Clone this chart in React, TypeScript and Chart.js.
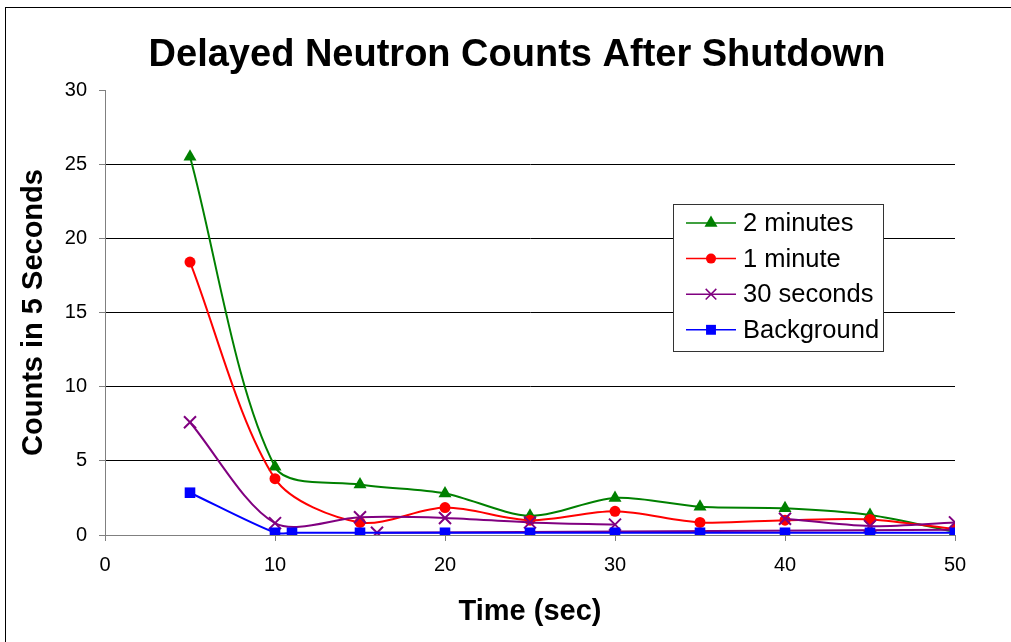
import React, { useEffect, useRef } from 'react';
import { Chart, registerables } from 'chart.js';

Chart.register(...registerables);

const FONT = "'Liberation Sans', Arial, Helvetica, sans-serif";

const chartTitle = 'Delayed Neutron Counts After Shutdown';
const xAxisTitle = 'Time (sec)';
const yAxisTitle = 'Counts in 5 Seconds';

const seriesNames = ['2 minutes', '1 minute', '30 seconds', 'Background'];
const seriesColors = ['#008000', '#FF0000', '#800080', '#0000FF'];
const seriesMarkers = ['triangle', 'circle', 'crossRot', 'rect'];

const twoMinTimes = [5, 10, 15, 20, 25, 30, 35, 40, 45, 50];
const twoMinCounts = [25.5, 4.6, 3.4, 2.8, 1.3, 2.5, 1.9, 1.8, 1.35, 0.2];

const oneMinTimes = [5, 10, 15, 20, 25, 30, 35, 40, 45, 50];
const oneMinCounts = [18.4, 3.8, 0.85, 1.85, 1.0, 1.6, 0.85, 1.0, 1.05, 0.4];

// null entries break the line into separate runs
const thirtySecTimes = [5, 10, 15, 20, 25, 30, 35, 40, 45, 50, 35, 16, 50];
const thirtySecCounts = [7.6, 0.8, 1.2, 1.15, 0.85, 0.7, null, 1.1, 0.6, 0.85, null, 0.15, 0.35];
const thirtySecMarkerShown = [1, 1, 1, 1, 1, 1, 0, 1, 1, 1, 0, 1, 0];

const backgroundTimes = [5, 10, 11, 15, 20, 25, 30, 35, 40, 45, 50];
const backgroundCounts = [2.85, 0.15, 0.15, 0.15, 0.15, 0.15, 0.15, 0.15, 0.15, 0.15, 0.15];

const xTicks = [0, 10, 20, 30, 40, 50];
const yTicks = [0, 5, 10, 15, 20, 25, 30];

const toPoints = (xs: number[], ys: (number | null)[]) => xs.map((x, i) => ({ x, y: ys[i] }));

function drawMarker(ctx: CanvasRenderingContext2D, style: string, x: number, y: number, r: number, color: string) {
  ctx.save();
  ctx.fillStyle = color;
  ctx.strokeStyle = color;
  ctx.beginPath();
  if (style === 'triangle') {
    ctx.moveTo(x, y - r);
    ctx.lineTo(x + r * 0.866, y + r * 0.5);
    ctx.lineTo(x - r * 0.866, y + r * 0.5);
    ctx.closePath();
    ctx.fill();
  } else if (style === 'circle') {
    ctx.arc(x, y, r, 0, Math.PI * 2);
    ctx.fill();
  } else if (style === 'crossRot') {
    const d = r * 0.707;
    ctx.lineWidth = 1.5;
    ctx.moveTo(x - d, y - d);
    ctx.lineTo(x + d, y + d);
    ctx.moveTo(x - d, y + d);
    ctx.lineTo(x + d, y - d);
    ctx.stroke();
  } else {
    const s = r * 0.707;
    ctx.fillRect(x - s, y - s, 2 * s, 2 * s);
  }
  ctx.restore();
}

const chartHeading = {
  id: 'chartHeading',
  afterDraw(chart: any) {
    const ctx: CanvasRenderingContext2D = chart.ctx;
    ctx.save();
    ctx.fillStyle = '#000000';
    ctx.font = `bold 38px ${FONT}`;
    ctx.textAlign = 'center';
    ctx.textBaseline = 'middle';
    ctx.fillText(chartTitle, 517, 56);
    ctx.restore();
  },
};

const boxLegend = {
  id: 'boxLegend',
  afterDatasetsDraw(chart: any) {
    const ctx: CanvasRenderingContext2D = chart.ctx;
    ctx.save();
    const x0 = 673.5;
    const y0 = 204.5;
    const w = 210;
    const h = 147;
    ctx.fillStyle = '#ffffff';
    ctx.fillRect(x0, y0, w, h);
    ctx.strokeStyle = '#333333';
    ctx.lineWidth = 1;
    ctx.strokeRect(x0, y0, w, h);
    const sizes = [7.5, 5, 7.5, 7];
    seriesNames.forEach((name, i) => {
      const y = 223 + i * 35.6;
      ctx.strokeStyle = seriesColors[i];
      ctx.lineWidth = 1.5;
      ctx.beginPath();
      ctx.moveTo(686, y);
      ctx.lineTo(736, y);
      ctx.stroke();
      drawMarker(ctx, seriesMarkers[i], 711, y, sizes[i], seriesColors[i]);
      ctx.fillStyle = '#000000';
      ctx.font = `25.5px ${FONT}`;
      ctx.textBaseline = 'middle';
      ctx.textAlign = 'left';
      ctx.fillText(name, 743, y + 1);
    });
    ctx.restore();
  },
};

export default function App() {
  const canvasRef = useRef<HTMLCanvasElement | null>(null);

  useEffect(() => {
    if (!canvasRef.current) return;
    const common = {
      showLine: true,
      tension: 0.3,
      borderWidth: 2,
      spanGaps: false,
      fill: false,
    };
    const chart = new Chart(canvasRef.current, {
      type: 'scatter',
      data: {
        datasets: [
          {
            ...common,
            label: seriesNames[0],
            data: toPoints(twoMinTimes, twoMinCounts),
            borderColor: seriesColors[0],
            backgroundColor: seriesColors[0],
            pointStyle: 'triangle',
            pointRadius: 7.5,
            pointBorderWidth: 0,
            order: 4,
          },
          {
            ...common,
            label: seriesNames[1],
            data: toPoints(oneMinTimes, oneMinCounts),
            borderColor: seriesColors[1],
            backgroundColor: seriesColors[1],
            pointStyle: 'circle',
            pointRadius: 5.5,
            pointBorderWidth: 0,
            order: 3,
          },
          {
            ...common,
            label: seriesNames[2],
            data: toPoints(thirtySecTimes, thirtySecCounts),
            borderColor: seriesColors[2],
            backgroundColor: seriesColors[2],
            pointStyle: 'crossRot',
            pointRadius: thirtySecMarkerShown.map((v) => (v ? 8.5 : 0)),
            pointBorderWidth: 2,
            order: 2,
          },
          {
            ...common,
            label: seriesNames[3],
            data: toPoints(backgroundTimes, backgroundCounts),
            borderColor: seriesColors[3],
            backgroundColor: seriesColors[3],
            pointStyle: 'rect',
            pointRadius: 7.5,
            pointBorderWidth: 0,
            order: 1,
          },
        ] as any,
      },
      options: {
        responsive: false,
        animation: false,
        devicePixelRatio: 1,
        layout: { padding: { left: 0, right: 56, top: 90, bottom: 0 } },
        plugins: {
          legend: { display: false },
          tooltip: { enabled: false },
          title: { display: false },
        },
        scales: {
          x: {
            type: 'linear',
            min: 0,
            max: 50,
            afterFit: (s: any) => {
              s.height = 107;
            },
            afterBuildTicks: (s: any) => {
              s.ticks = xTicks.map((v) => ({ value: v }));
            },
            border: { display: true, color: '#808080', width: 1 },
            grid: { drawOnChartArea: false, drawTicks: true, tickLength: 6, tickColor: '#808080' },
            ticks: {
              color: '#000000',
              font: { family: FONT, size: 20 },
              padding: 12,
              maxRotation: 0,
            },
            title: {
              display: true,
              text: xAxisTitle,
              color: '#000000',
              font: { family: FONT, size: 29, weight: 'bold' },
              padding: { top: 0, bottom: 13 },
            },
          },
          y: {
            type: 'linear',
            min: 0,
            max: 30,
            afterFit: (s: any) => {
              s.width = 105;
            },
            afterBuildTicks: (s: any) => {
              s.ticks = yTicks.map((v) => ({ value: v }));
            },
            border: { display: true, color: '#808080', width: 1 },
            grid: {
              drawTicks: true,
              tickLength: 6,
              tickColor: '#808080',
              color: (c: any) => (c.tick && c.tick.value === 30 ? 'rgba(0,0,0,0)' : c.tick && c.tick.value === 0 ? '#808080' : '#000000'),
              lineWidth: 1,
            },
            ticks: {
              color: '#000000',
              font: { family: FONT, size: 20 },
              padding: 12,
            },
            title: {
              display: true,
              text: yAxisTitle,
              color: '#000000',
              font: { family: FONT, size: 29, weight: 'bold' },
              padding: { top: 17, bottom: 0 },
            },
          },
        },
      } as any,
      plugins: [boxLegend, chartHeading],
    });
    return () => chart.destroy();
  }, []);

  return (
    <div style={{ position: 'fixed', left: 0, top: 0, width: 1011, height: 642, background: '#ffffff', overflow: 'hidden' }}>
      <div
        style={{
          position: 'absolute',
          left: 5,
          top: 7,
          width: 1030,
          height: 660,
          border: '1px solid #000000',
          boxSizing: 'border-box',
        }}
      />
      <canvas ref={canvasRef} width={1011} height={642} style={{ position: 'absolute', left: 0, top: 0, width: 1011, height: 642 }} />
    </div>
  );
}
